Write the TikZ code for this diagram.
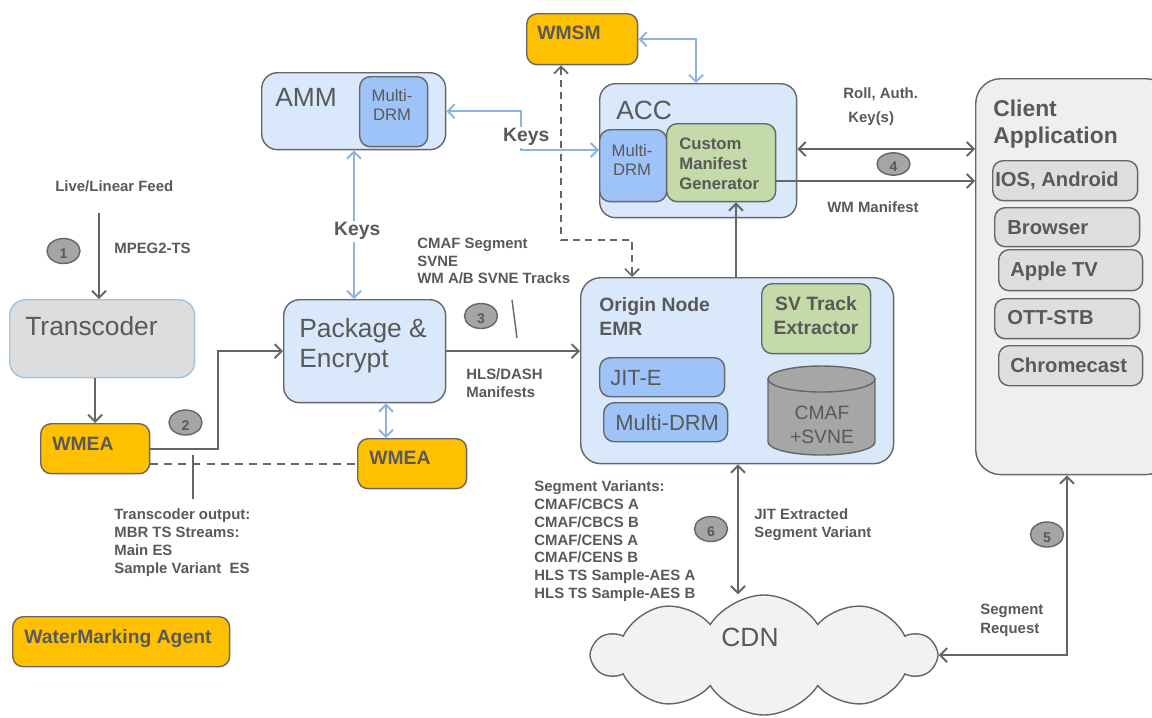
\documentclass[tikz,border=0pt]{standalone}
\usepackage{fontspec}
\setmainfont{Liberation Sans}
\usetikzlibrary{arrows.meta, shapes.geometric, shapes.symbols, positioning}

\definecolor{tgray}{HTML}{595959}
\definecolor{lgray}{HTML}{666666}
\definecolor{lblue}{HTML}{8DB3E2}
\definecolor{tblue}{HTML}{9DC3E6}
\definecolor{boxblue}{HTML}{DAE8FC}
\definecolor{drmblue}{HTML}{9DC3F9}
\definecolor{wmorange}{HTML}{FFC000}
\definecolor{svgreen}{HTML}{C5DAA9}
\definecolor{tcgray}{HTML}{DDDDDD}
\definecolor{clfill}{HTML}{EFEFEF}
\definecolor{devfill}{HTML}{DEDEDE}
\definecolor{numgray}{HTML}{A5A5A5}
\definecolor{cylgray}{HTML}{A6A6A6}
\definecolor{cloudfill}{HTML}{F2F2F2}

\tikzset{
  box/.style={draw=lgray, line width=0.8pt, rounded corners=6pt, anchor=north west, inner sep=0pt},
  bluebox/.style={box, fill=boxblue, rounded corners=9pt},
  drmbox/.style={box, fill=drmblue},
  wmbox/.style={box, fill=wmorange},
  greenbox/.style={box, fill=svgreen},
  devbox/.style={box, fill=devfill},
  txt/.style={text=tgray, inner sep=0pt, align=left},
  lbl/.style={txt, font=\fontsize{8.5}{10.1}\selectfont\bfseries},
  midbf/.style={txt, font=\fontsize{11}{13.7}\selectfont\bfseries},
  bigtxt/.style={txt, font=\fontsize{15}{17.6}\selectfont},
  drmtxt/.style={txt, align=center, font=\fontsize{9.5}{11.1}\selectfont},
  devtxt/.style={txt, font=\fontsize{11.5}{13}\selectfont\bfseries},
  jittxt/.style={txt, font=\fontsize{12.5}{14}\selectfont},
  num/.style={ellipse, draw=lgray, line width=0.8pt, fill=numgray, minimum width=0.66cm, minimum height=0.5cm, inner sep=0pt, text height=9pt, text depth=0pt, text=tgray, font=\fontsize{8}{8}\selectfont\bfseries},
  arr/.style={draw=lgray, line width=1.1pt, -{Straight Barb[length=4pt, width=8pt]}},
  darr/.style={draw=lgray, line width=1.1pt, {Straight Barb[length=4pt, width=8pt]}-{Straight Barb[length=4pt, width=8pt]}},
  barr/.style={draw=lblue, line width=1.1pt, {Straight Barb[length=4pt, width=8pt]}-{Straight Barb[length=4pt, width=8pt]}},
  dasharr/.style={draw=lgray, line width=1pt, dash pattern=on 4pt off 3pt, {Straight Barb[length=4pt, width=8pt]}-{Straight Barb[length=4pt, width=8pt]}},
  dashline/.style={draw=lgray, line width=1.1pt, dash pattern=on 4.5pt off 3.5pt},
  thinline/.style={draw=lgray, line width=0.8pt}
}

\begin{document}
\begin{tikzpicture}[x=0.02cm, y=-0.02cm]
\useasboundingbox (0,0) rectangle (1152,717);

\node[wmbox, minimum width=2.22cm, minimum height=1.02cm] (wmsm) at (526,13) {};
\node[midbf, anchor=base west] (wmsmtxt) at (537,39.9) {WMSM};

\node[bluebox, minimum width=3.68cm, minimum height=1.54cm] (amm) at (261,72) {};
\node[bigtxt, anchor=base west] (ammtxt) at (275,106.4) {AMM};
\node[drmbox, minimum width=1.36cm, minimum height=1.40cm] (ammdrm) at (359,76) {};
\node[drmtxt] (ammdrmtxt) at (392,105) {Multi-\\DRM};

\node[bluebox, minimum width=3.94cm, minimum height=2.68cm] (acc) at (599,83) {};
\node[bigtxt, anchor=base west] (acctxt) at (616,119) {ACC};
\node[drmbox, minimum width=1.34cm, minimum height=1.44cm] (accdrm) at (599,129) {};
\node[drmtxt] (accdrmtxt) at (632,160) {Multi-\\DRM};
\node[greenbox, minimum width=2.18cm, minimum height=1.56cm] (cmg) at (666,123) {};
\node[txt, font=\fontsize{9.5}{11.4}\selectfont\bfseries, anchor=north west] (cmgtxt) at (679,137) {Custom\\Manifest\\Generator};

\node[box, draw=lgray, fill=clfill, rounded corners=0.5cm, minimum width=3.9cm, minimum height=7.92cm] (client) at (975,78) {};
\node[txt, font=\fontsize{13}{15.4}\selectfont\bfseries, anchor=north west] (clienttxt) at (993,99.8) {Client\\Application};
\draw (992,160) node[devbox, minimum width=2.90cm, minimum height=0.80cm] (ios) {}
      (994,207) node[devbox, minimum width=2.90cm, minimum height=0.78cm] (browser) {}
      (998,249) node[devbox, minimum width=2.88cm, minimum height=0.82cm] (appletv) {}
      (994,298) node[devbox, minimum width=2.90cm, minimum height=0.80cm] (ottstb) {}
      (998,345) node[devbox, minimum width=2.88cm, minimum height=0.80cm] (chromecast) {};
\draw (995,186.2) node[devtxt, anchor=base west] (iostxt) {IOS, Android}
      (1007,234.2) node[devtxt, anchor=base west] (browsertxt) {Browser}
      (1010,276.2) node[devtxt, anchor=base west] (appletvtxt) {Apple TV}
      (1007,324.2) node[devtxt, anchor=base west] (ottstbtxt) {OTT-STB}
      (1010,372.2) node[devtxt, anchor=base west] (chromecasttxt) {Chromecast};

\node[box, draw=tblue, fill=tcgray, rounded corners=9pt, minimum width=3.70cm, minimum height=1.56cm] (transcoder) at (9,299) {};
\node[bigtxt, anchor=base west] (transcodertxt) at (25,335.4) {Transcoder};
\node[wmbox, minimum width=2.18cm, minimum height=1.0cm] (wmea1) at (40,423) {};
\node[midbf, anchor=base west] (wmea1txt) at (52,450.9) {WMEA};

\node[bluebox, minimum width=3.24cm, minimum height=2.06cm] (pkg) at (283,299) {};
\node[bigtxt, anchor=north west] (pkgtxt) at (299,317.6) {Package \&\\Encrypt};
\node[wmbox, minimum width=2.18cm, minimum height=1.0cm] (wmea2) at (357,438) {};
\node[midbf, anchor=base west] (wmea2txt) at (369,464.9) {WMEA};

\node[bluebox, rounded corners=0.4cm, minimum width=6.26cm, minimum height=3.72cm] (origin) at (580,277) {};
\node[midbf, anchor=north west] (origintxt) at (599,297.1) {Origin Node\\EMR};
\node[greenbox, minimum width=2.18cm, minimum height=1.40cm] (svte) at (761,283) {};
\node[midbf, align=center] (svtetxt) at (816,316) {SV Track\\Extractor};
\node[drmbox, minimum width=2.50cm, minimum height=0.78cm] (jite) at (599,357) {};
\node[jittxt, anchor=base west] (jitetxt) at (610,385.9) {JIT-E};
\node[drmbox, minimum width=2.48cm, minimum height=0.78cm] (odrm) at (603,402) {};
\node[jittxt, anchor=base west] (odrmtxt) at (615,430.9) {Multi-DRM};
\draw[draw=lgray, line width=0.8pt, fill=cylgray] (768,379) -- (768,442) arc[start angle=180, end angle=360, x radius=1.07cm, y radius=0.26cm] -- (875,379) -- cycle;
\draw[draw=lgray, line width=0.8pt, fill=cylgray] (821.5,379) ellipse[x radius=1.07cm, y radius=0.26cm];
\node[txt, align=center, font=\fontsize{11}{13.7}\selectfont] (cyltxt) at (822,425) {CMAF\\+SVNE};

\node[cloud, cloud puffs=10, cloud puff arc=115, aspect=2.9, draw=lgray, line width=0.8pt, fill=cloudfill, minimum width=6.84cm, minimum height=2.40cm, inner sep=0pt] (cdn) at (764,655) {};
\node[bigtxt] (cdntxt) at (750,637) {CDN};

\node[wmbox, minimum width=4.34cm, minimum height=1.0cm] (wmagent) at (12,616) {};
\node[midbf, anchor=base west] (wmagenttxt) at (24,643.9) {WaterMarking Agent};

\node[lbl, anchor=base west] (feedlbl) at (55,191.4) {Live/Linear Feed};
\node[lbl, anchor=base west] (mpeglbl) at (114,253.4) {MPEG2-TS};
\node[lbl, anchor=north west] (cmaflbl) at (417,237.6) {CMAF Segment\\SVNE\\WM A/B SVNE Tracks};
\node[lbl, anchor=north west] (hlslbl) at (466,368.6) {HLS/DASH\\Manifests};
\node[lbl, anchor=north west] (tcoutlbl) at (114,508.6) {Transcoder output:\\MBR TS Streams:\\Main ES\\Sample Variant\ \ ES};
\node[lbl, anchor=base west] (rolllbl) at (843,98.4) {Roll, Auth.};
\node[lbl, anchor=base west] (keyslbl) at (848,122.4) {Key(s)};
\node[lbl, anchor=base west] (wmmanlbl) at (827,212.4) {WM Manifest};
\node[lbl, anchor=north west] (segvarlbl) at (534,480.6) {Segment Variants:\\CMAF/CBCS A\\CMAF/CBCS B\\CMAF/CENS A\\CMAF/CENS B\\HLS TS Sample-AES A\\HLS TS Sample-AES B};
\node[lbl, anchor=north west] (jitlbl) at (754,508.6) {JIT Extracted\\Segment Variant};
\node[lbl, anchor=north west, text depth=0pt] (segreqlbl) at (980,603.6) {Segment\\[1pt]Request};

\node[num] (n1) at (63.5,251) {1};
\node[num] (n2) at (185.5,422.5) {2};
\node[num] (n3) at (481,316) {3};
\node[num, minimum height=0.44cm] (n4) at (893.5,164) {4};
\node[num] (n5) at (1047,534.5) {5};
\node[num] (n6) at (711,529) {6};

\coordinate (feedtop) at (99,213);
\coordinate (tickA) at (193,455);
\coordinate (tickB) at (193,499);
\coordinate (slashA) at (512,300);
\coordinate (slashB) at (517,338);

\draw[arr] (feedtop) -- (feedtop |- transcoder.north);
\draw[arr] (transcoder.south -| wmea1.north) -- (wmea1.north);
\draw[arr] (wmea1.east) -- ++(68,0) |- (pkg.west);
\draw[dashline] (wmea1.east |- wmea2.west) -- (wmea2.west);
\draw[thinline] (tickA) -- (tickB);
\draw[barr] (amm.south -| 354,0) -- (pkg.north -| 354,0);
\node[midbf, fill=white, inner sep=1pt, anchor=base west] (keysv) at (332,235.9) {Keys};
\draw[barr] (amm.east) -| (521,150) -- (accdrm.west |- 521,150);
\node[midbf, fill=white, inner sep=1pt, anchor=base west] (keysh) at (501,141.9) {Keys};
\draw[barr] (wmsm.east) -| (acc.north -| 696,0);
\draw[dasharr] (wmsm.south -| 561,0) -- (561,240) -| (origin.north -| 632,0);
\draw[arr] (origin.north -| 736,0) -- (cmg.south -| 736,0);
\draw[darr] (acc.east |- 0,149) -- (client.west |- 0,149);
\draw[arr] (cmg.east |- 0,181) -- (client.west |- 0,181);
\draw[arr] (pkg.east) -- (pkg.east -| origin.west);
\draw[barr] (pkg.south -| 386,0) -- (wmea2.north -| 386,0);
\draw[thinline] (slashA) -- (slashB);
\draw[darr] (origin.south -| 738,0) -- (cdn.north -| 738,0);
\draw[darr] (client.south -| 1067,0) |- (cdn.east);
\end{tikzpicture}
\end{document}
